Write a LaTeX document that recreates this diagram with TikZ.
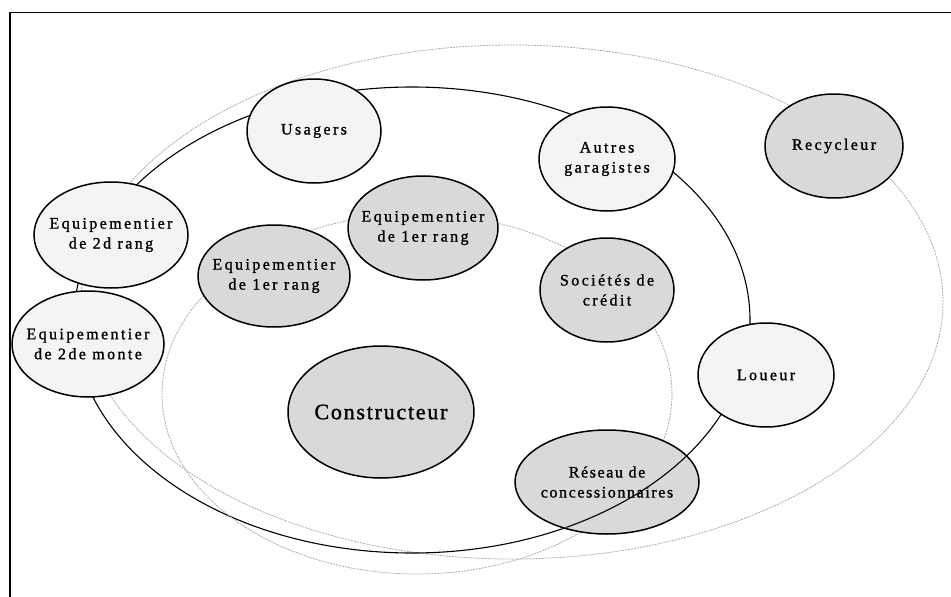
\documentclass[tikz,border=0pt]{standalone}
\usepackage{fontspec}
\setmainfont{Liberation Serif}
\newfontfamily\lblfont{Liberation Serif}[LetterSpace=15,FakeBold=1.2]
\newfontfamily\lblfontr{Liberation Serif}[LetterSpace=10,FakeBold=1.2]
\newfontfamily\lblfontb{Liberation Serif}[LetterSpace=8,FakeBold=1.4]
\usetikzlibrary{shapes.geometric}
\begin{document}
\begin{tikzpicture}[x=1pt,y=-1pt,
  bub/.style={ellipse, draw=black, line width=1.5pt, inner sep=0pt},
  light/.style={bub, fill=gray!9},
  dark/.style={bub, fill=gray!30},
  txt/.style={font=\lblfont\fontsize{16}{20}\selectfont, align=center, inner sep=0pt, text=black},
  txtr/.style={font=\lblfontr\fontsize{16}{20}\selectfont, align=center, inner sep=0pt, text=black},
  bigtxt/.style={font=\lblfontb\fontsize{22}{26}\selectfont, align=center, inner sep=0pt, text=black},
  ringout/.style={draw=gray!65, line width=0.8pt, dash pattern=on 2pt off 1pt},
  ringmid/.style={draw=black, line width=1.1pt},
  frameline/.style={draw=black, line width=1.6pt}]
\useasboundingbox (0,0) rectangle (951,597);
\draw[frameline] (10,597) -- (10,12.5) -- (951,12.5);
% rings
\draw[ringout] (512,302) ellipse [x radius=431pt, y radius=257pt];
\draw[ringmid] (412,320) ellipse [x radius=338pt, y radius=233pt];
\draw[ringout] (417,394) ellipse [x radius=255pt, y radius=180pt];
% actors
\node[light, minimum width=134pt, minimum height=104pt, label={[txt]center:Usagers}] (usagers) at (314,131) {};
\node[light, minimum width=154pt, minimum height=106pt, label={[txt]center:Equipementier\\de 2d rang}] (eqdeux) at (111,235) {};
\node[dark, minimum width=152pt, minimum height=102pt, label={[txt]center:Equipementier\\de 1er rang}] (equnL) at (274,276) {};
\node[dark, minimum width=150pt, minimum height=104pt, label={[txt]center:Equipementier\\de 1er rang}] (equnR) at (423,228) {};
\node[light, minimum width=152pt, minimum height=106pt, label={[txt]center:Equipementier\\de 2de monte}] (eqmonte) at (88,344) {};
\node[light, minimum width=136pt, minimum height=104pt, label={[txt]center:Autres\\garagistes}] (autres) at (607,159) {};
\node[dark, minimum width=138pt, minimum height=104pt, label={[txt]center:Recycleur}] (recycleur) at (834,146) {};
\node[dark, minimum width=134pt, minimum height=104pt, label={[txt]center:Sociétés de\\crédit}] (societes) at (607,290) {};
\node[light, minimum width=136pt, minimum height=104pt, label={[txt]center:Loueur}] (loueur) at (766,375) {};
\node[dark, minimum width=184pt, minimum height=104pt, label={[txtr]center:Réseau de\\concessionnaires}] (reseau) at (607,482) {};
\node[dark, minimum width=186pt, minimum height=132pt, label={[bigtxt]center:Constructeur}] (constructeur) at (381,412) {};
% middle ring drawn over the dealer network
\begin{scope}
\clip (reseau.center) ellipse [x radius=91pt, y radius=51pt];
\draw[ringmid] (412,320) ellipse [x radius=338pt, y radius=233pt];
\end{scope}
\end{tikzpicture}
\end{document}
